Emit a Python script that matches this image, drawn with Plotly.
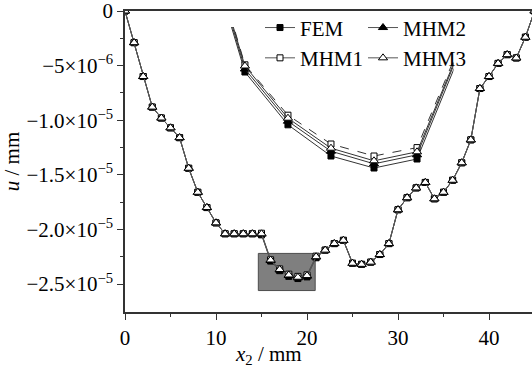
import plotly.graph_objects as go

# x2 positions (mm)
x2 = list(range(46))
SCALE = 1e-5  # values below are given in units of 1e-5 mm

MHM3 = [0.0, -0.29, -0.60, -0.88, -0.98, -1.07, -1.16, -1.44, -1.66, -1.80,
        -1.94, -2.04, -2.04, -2.04, -2.04, -2.04, -2.280, -2.367, -2.417, -2.438,
        -2.423, -2.25, -2.19, -2.13, -2.10, -2.31, -2.32, -2.30, -2.23, -2.13,
        -1.82, -1.71, -1.62, -1.57, -1.72, -1.66, -1.55, -1.39, -1.18, -0.71,
        -0.60, -0.48, -0.40, -0.43, -0.24, 0.0]
MHM2 = [0.0, -0.29, -0.60, -0.88, -0.98, -1.07, -1.16, -1.44, -1.66, -1.80,
        -1.94, -2.04, -2.04, -2.04, -2.04, -2.043, -2.285, -2.372, -2.422, -2.443,
        -2.428, -2.253, -2.19, -2.13, -2.10, -2.31, -2.32, -2.30, -2.23, -2.13,
        -1.82, -1.71, -1.62, -1.57, -1.72, -1.66, -1.55, -1.39, -1.18, -0.71,
        -0.60, -0.48, -0.40, -0.43, -0.24, 0.0]
MHM1 = [0.0, -0.29, -0.60, -0.88, -0.98, -1.07, -1.16, -1.44, -1.66, -1.80,
        -1.94, -2.04, -2.04, -2.04, -2.04, -2.035, -2.278, -2.362, -2.410, -2.430,
        -2.416, -2.245, -2.19, -2.13, -2.10, -2.31, -2.32, -2.30, -2.23, -2.13,
        -1.82, -1.71, -1.62, -1.57, -1.72, -1.66, -1.55, -1.39, -1.18, -0.71,
        -0.60, -0.48, -0.40, -0.43, -0.24, 0.0]
FEM = [0.0, -0.29, -0.60, -0.88, -0.98, -1.07, -1.16, -1.44, -1.66, -1.80,
       -1.94, -2.04, -2.04, -2.04, -2.04, -2.05, -2.290, -2.378, -2.430, -2.450,
       -2.435, -2.26, -2.19, -2.13, -2.10, -2.31, -2.32, -2.30, -2.23, -2.13,
       -1.82, -1.71, -1.62, -1.57, -1.72, -1.66, -1.55, -1.39, -1.18, -0.71,
       -0.60, -0.48, -0.40, -0.43, -0.24, 0.0]

y_tickvals = [0, -0.5, -1.0, -1.5, -2.0, -2.5]
y_ticktext = ["0", "−5×10<sup>−6</sup>", "−1.0×10<sup>−5</sup>", "−1.5×10<sup>−5</sup>",
              "−2.0×10<sup>−5</sup>", "−2.5×10<sup>−5</sup>"]
y_minor = [-0.25, -0.75, -1.25, -1.75, -2.25]
x_tickvals = [0, 10, 20, 30, 40]
x_minor = [5, 15, 25, 35]

# zoom window (main-axis units)
zoom_x = [14.65, 20.9]
zoom_y = [-2.22, -2.56]

FONT = "Liberation Serif, Times New Roman, serif"
LINE = "#555555"
FS = 21

def sc(v):
    return [a * SCALE for a in v]

series = [
    ("FEM", FEM, dict(symbol="square", color="black", size=6, line=dict(color="black", width=1)), "solid", "legend"),
    ("MHM1", MHM1, dict(symbol="square", color="white", size=6, line=dict(color="black", width=1)), "dash", "legend"),
    ("MHM2", MHM2, dict(symbol="triangle-up", color="black", size=8, line=dict(color="black", width=1)), "solid", "legend2"),
    ("MHM3", MHM3, dict(symbol="triangle-up", color="white", size=8, line=dict(color="black", width=1)), "solid", "legend2"),
]

fig = go.Figure()
for name, vals, mk, dash, lg in series:
    fig.add_trace(go.Scatter(x=x2, y=sc(vals), mode="lines+markers", name=name,
                             marker=mk, line=dict(color=LINE, width=1, dash="solid"),
                             legend=lg, showlegend=True, xaxis="x", yaxis="y"))
# inset (magnified view of the grey window)
for name, vals, mk, dash, lg in series:
    fig.add_trace(go.Scatter(x=x2, y=sc(vals), mode="lines+markers", name=name,
                             marker=mk, line=dict(color="#333333", width=1, dash=dash),
                             showlegend=False, xaxis="x2", yaxis="y2"))

fig.add_shape(type="rect", xref="x", yref="y", x0=zoom_x[0], x1=zoom_x[1],
              y0=zoom_y[0] * SCALE, y1=zoom_y[1] * SCALE,
              fillcolor="#7f7f7f", line=dict(color="#4d4d4d", width=1), layer="below")

W, H = 532, 368
L, R, T, B = 125, 0, 11, 56
xr = [0, (W - L - R) / 9.1]
yr = [-(H - T - B) / 109.2 * SCALE, 0]

fig.update_layout(
    width=W, height=H,
    margin=dict(l=L, r=R, t=T, b=B),
    paper_bgcolor="white", plot_bgcolor="rgba(0,0,0,0)",
    font=dict(family=FONT, size=FS, color="black"),
    xaxis=dict(range=xr, tickmode="array", tickvals=x_tickvals, ticks="outside",
               ticklen=6, tickwidth=1.3, tickcolor="#333", showline=True, linecolor="#333",
               linewidth=1.5, mirror=True, showgrid=False, zeroline=False,
               ticklabeloverflow="allow",
               minor=dict(tickmode="array", tickvals=x_minor, ticks="outside", ticklen=3,
                          tickcolor="#333", tickwidth=1.3),
               tickfont=dict(size=FS)),
    yaxis=dict(range=yr, tickmode="array", tickvals=sc(y_tickvals), ticktext=y_ticktext,
               ticks="outside", ticklen=6, tickwidth=1.3, tickcolor="#333", showline=True,
               linecolor="#333", linewidth=1.5, showgrid=False, zeroline=False,
               ticklabeloverflow="allow",
               minor=dict(tickmode="array", tickvals=sc(y_minor), ticks="outside", ticklen=3,
                          tickcolor="#333", tickwidth=1.3),
               title=dict(text="<i>u</i> / mm", standoff=4, font=dict(size=FS)),
               tickfont=dict(size=FS)),
    xaxis2=dict(domain=[(189 - L) / 407, (453.6 - L) / 407], range=[14.7, 20.85],
                visible=False, anchor="y2"),
    yaxis2=dict(domain=[(312 - 234) / 301, (312 - 27) / 301], range=[-2.56 * SCALE, -2.215 * SCALE],
                visible=False, anchor="x2"),
    legend=dict(x=(260 - L) / 407, y=1.012, xanchor="left", yanchor="top",
                bgcolor="rgba(0,0,0,0)", font=dict(size=FS), tracegroupgap=0),
    legend2=dict(x=(363 - L) / 407, y=1.012, xanchor="left", yanchor="top",
                 bgcolor="rgba(0,0,0,0)", font=dict(size=FS), tracegroupgap=0),
    annotations=[dict(text="<i>x</i><sub>2</sub> / mm", xref="paper", yref="paper",
                      x=(268 - L) / 407, y=-0.092, xanchor="center", yanchor="top",
                      showarrow=False, font=dict(size=FS))],
)

fig.write_html("out.html")
